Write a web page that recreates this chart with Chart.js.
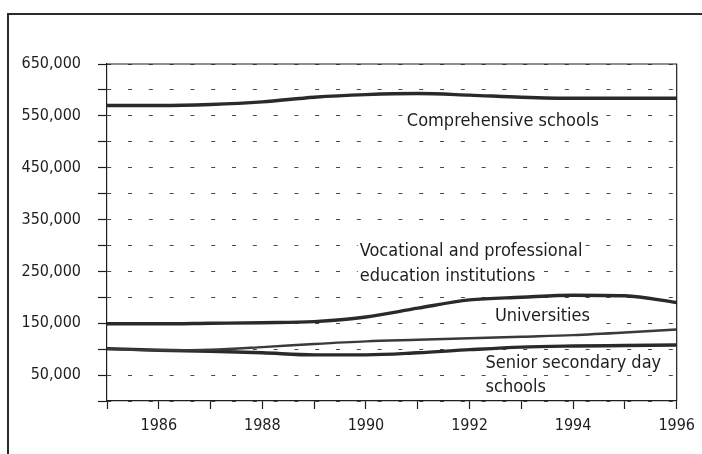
<!DOCTYPE html>
<html>
<head>
<meta charset="utf-8">
<script src="https://cdn.jsdelivr.net/npm/chart.js@4"></script>
<style>
  html, body { margin: 0; padding: 0; background: #fff; }
  #wrap { position: relative; width: 702px; height: 454px; overflow: hidden; }
  #frame { position: absolute; left: 7px; top: 13px; width: 720px; height: 460px;
           border-left: 2px solid #2b2b2b; border-top: 2px solid #2b2b2b; }
  canvas { position: absolute; left: 0; top: 0; }
</style>
</head>
<body>
<div id="wrap">
  <div id="frame"></div>
  <canvas id="c" width="702" height="454"></canvas>
</div>
<script>
// Pupils and students by type of institution, 1985-1996
const years = [1985, 1986, 1987, 1988, 1989, 1990, 1991, 1992, 1993, 1994, 1995, 1996];
const comprehensive = [570000, 570000, 572000, 577000, 586000, 591000, 593000, 590000, 586000, 584000, 584000, 584000];
const vocational   = [149000, 149000, 150000, 151000, 153000, 162000, 179000, 195000, 200000, 204000, 203000, 190000];
const universities = [100000, 98000, 99000, 104000, 110000, 115000, 118000, 121000, 124000, 127000, 132000, 138000];
const seniorSecondary = [101000, 98000, 96000, 93000, 89000, 89000, 93000, 99000, 104000, 106000, 107000, 108000];

const yMin = 0, yMax = 650000, yStep = 50000;
const xMin = 1985, xMax = 1996;

// Text labels placed next to their lines (x in years, y in pupils; left-aligned, vertically centred)
const lineLabels = [
  { text: "Comprehensive schools", x: 1990.79, y: 542000 },
  { text: "Vocational and professional", x: 1989.88, y: 291000 },
  { text: "education institutions", x: 1989.88, y: 243000 },
  { text: "Universities", x: 1992.49, y: 166000 },
  { text: "Senior secondary day", x: 1992.31, y: 75000 },
  { text: "schools", x: 1992.31, y: 29000 }
];

const FONT = '"Liberation Sans Narrow", "DejaVu Sans Condensed", "Liberation Sans", sans-serif';
const INK = '#1e1e1e';

const toPoints = arr => arr.map((v, i) => ({ x: years[i], y: v }));

const plotFrame = {
  id: 'plotFrame',
  afterDatasetsDraw(chart) {
    const { ctx, chartArea: a, scales } = chart;
    ctx.save();
    // top and right edges of the plot box
    ctx.strokeStyle = INK;
    ctx.lineWidth = 1.2;
    ctx.beginPath();
    ctx.moveTo(a.left, a.top);
    ctx.lineTo(a.right, a.top);
    ctx.lineTo(a.right, a.bottom);
    ctx.stroke();

    // series labels on white patches
    ctx.font = '18px ' + FONT;
    ctx.textBaseline = 'middle';
    ctx.textAlign = 'left';
    lineLabels.forEach(l => {
      const px = scales.x.getPixelForValue(l.x);
      const py = scales.y.getPixelForValue(l.y);
      const w = ctx.measureText(l.text).width;
      ctx.fillStyle = '#ffffff';
      ctx.fillRect(px - 2, py - 10, w + 3, 20);
      ctx.fillStyle = INK;
      ctx.fillText(l.text, px, py + 1);
    });
    ctx.restore();
  }
};

const lineStyle = (w, c) => ({
  borderColor: c, borderWidth: w, pointRadius: 0, fill: false,
  cubicInterpolationMode: 'monotone', borderCapStyle: 'round', borderJoinStyle: 'round'
});

new Chart(document.getElementById('c'), {
  type: 'line',
  data: {
    datasets: [
      Object.assign({ label: 'Comprehensive schools', data: toPoints(comprehensive) }, lineStyle(3.4, '#2a2a2a')),
      Object.assign({ label: 'Vocational and professional education institutions', data: toPoints(vocational) }, lineStyle(3.4, '#2a2a2a')),
      Object.assign({ label: 'Universities', data: toPoints(universities) }, lineStyle(2.4, '#3a3a3a')),
      Object.assign({ label: 'Senior secondary day schools', data: toPoints(seniorSecondary) }, lineStyle(3.4, '#2a2a2a'))
    ]
  },
  options: {
    responsive: false,
    animation: false,
    devicePixelRatio: 1,
    layout: { padding: { left: 0, top: 64, right: 25, bottom: 0 } },
    plugins: { legend: { display: false }, tooltip: { enabled: false } },
    scales: {
      x: {
        type: 'linear', min: xMin, max: xMax,
        afterFit(s) { s.height = 53; },
        grid: { drawOnChartArea: false, drawTicks: true, tickLength: 8, tickColor: INK, tickWidth: 1.2 },
        border: { display: true, color: INK, width: 1.2 },
        ticks: {
          stepSize: 1, autoSkip: false, maxRotation: 0, padding: 7,
          color: INK, font: { family: FONT, size: 16 },
          callback: v => (v % 2 === 0 ? String(v) : '')
        }
      },
      y: {
        min: yMin, max: yMax,
        afterFit(s) { s.width = 107; },
        grid: { color: '#4a4a4a', lineWidth: 1, drawTicks: true, tickLength: 9, tickColor: INK, tickWidth: 1.2, tickBorderDash: [] },
        border: { display: true, color: INK, width: 1.2, dash: [4, 16.8] },
        ticks: {
          stepSize: yStep, autoSkip: false, padding: 17,
          color: INK, font: { family: FONT, size: 16 },
          callback: v => ((v / yStep) % 2 === 1 ? v.toLocaleString('en-US') : '')
        }
      }
    }
  },
  plugins: [plotFrame]
});
</script>
</body>
</html>
